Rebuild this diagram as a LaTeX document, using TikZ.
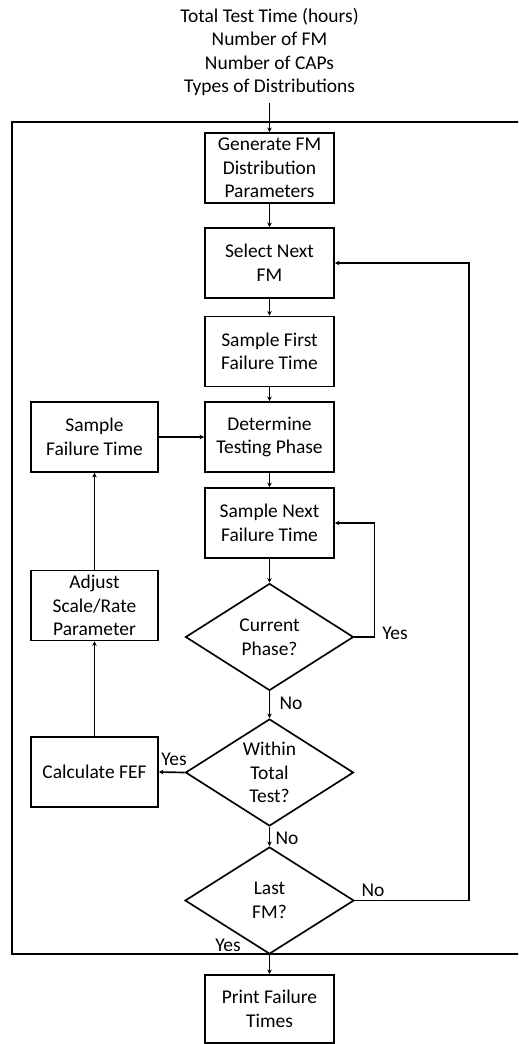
\documentclass[tikz,border=0pt]{standalone}
\usepackage{fontspec}
\setmainfont{Carlito}
\usetikzlibrary{shapes.geometric,arrows.meta}
\begin{document}
\begin{tikzpicture}[x=0.75pt,y=-0.75pt,
  font=\fontsize{14.6}{17.7}\selectfont,
  box/.style={draw, line width=1.25pt, align=center, minimum width=96.75pt, minimum height=52.5pt, inner sep=2pt},
  sbox/.style={box, minimum width=95.25pt},
  dia/.style={draw, diamond, line width=1.25pt, inner sep=0pt, minimum width=126pt, minimum height=80.25pt},
  txt/.style={align=center, inner sep=0pt},
  arr/.style={line width=1.25pt, -{Stealth[length=3.5pt,width=3.5pt]}},
  frame/.style={line width=1.25pt},
  lbl/.style={inner sep=0pt}]
\useasboundingbox (0,0) rectangle (518,1044);
\clip (0,0) rectangle (518,1044);

% outer frame around the simulation loop
\draw[frame] (12,122) rectangle (540,954);

% inputs
\node[txt, inner ysep=5pt] (hdr) at (269.5,52) {Total Test Time (hours)\\Number of FM\\Number of CAPs\\Types of Distributions};

% process boxes
\node[box] (gen) at (269.5,168) {Generate FM\\Distribution\\Parameters};
\node[box] (sel) at (269.5,263) {Select Next\\FM};
\node[box] (sft) at (269.5,351.5) {Sample First\\Failure Time};
\node[box] (det) at (269.5,437) {Determine\\Testing Phase};
\node[sbox] (sfl) at (94.5,437) {Sample\\Failure Time};
\node[box] (snf) at (269.5,523) {Sample Next\\Failure Time};
\node[sbox] (adj) at (94.5,605.5) {Adjust\\Scale/Rate\\Parameter};
\node[sbox] (fef) at (94.5,772) {Calculate FEF};
\node[box, minimum height=51pt] (prt) at (269.5,1009) {Print Failure\\Times};

% decisions
\node[dia] (cur) at (269.5,637) {};
\node[txt] at (cur.center) {Current\\Phase?};
\node[dia] (win) at (269.5,772.5) {};
\node[txt] at (win.center) {Within\\Total\\Test?};
\node[dia, minimum width=126.75pt] (lst) at (269.5,900.5) {};
\node[txt] at (lst.center) {Last\\FM?};

% main flow
\draw[arr] (hdr.south) -- (gen.north);
\draw[arr] (gen) -- (sel);
\draw[arr] (sel) -- (sft);
\draw[arr] (sft) -- (det);
\draw[arr] (det) -- (snf);
\draw[arr] (snf) -- (cur.north);
\draw[arr] (cur.south) -- (win.north);
\draw[arr] (win.south) -- (lst.north);
\draw[arr] (lst.south) -- (prt.north);

% loops
\draw[arr] (cur.east) -- ++(20,0) |- (snf.east);
\draw[arr] (lst.east) -- ++(114,0) |- (sel.east);
\draw[arr] (win.west) -- (fef.east);
\draw[arr] (fef.north) -- (adj.south);
\draw[arr] (adj.north) -- (sfl.south);
\draw[arr] (sfl.east) -- (det.west);

% branch labels
\node[lbl] at (395,633) {Yes};
\node[lbl] at (291,703) {No};
\node[lbl] at (174,759) {Yes};
\node[lbl] at (287,838) {No};
\node[lbl] at (373,890) {No};
\node[lbl] at (228,945) {Yes};
\end{tikzpicture}
\end{document}
